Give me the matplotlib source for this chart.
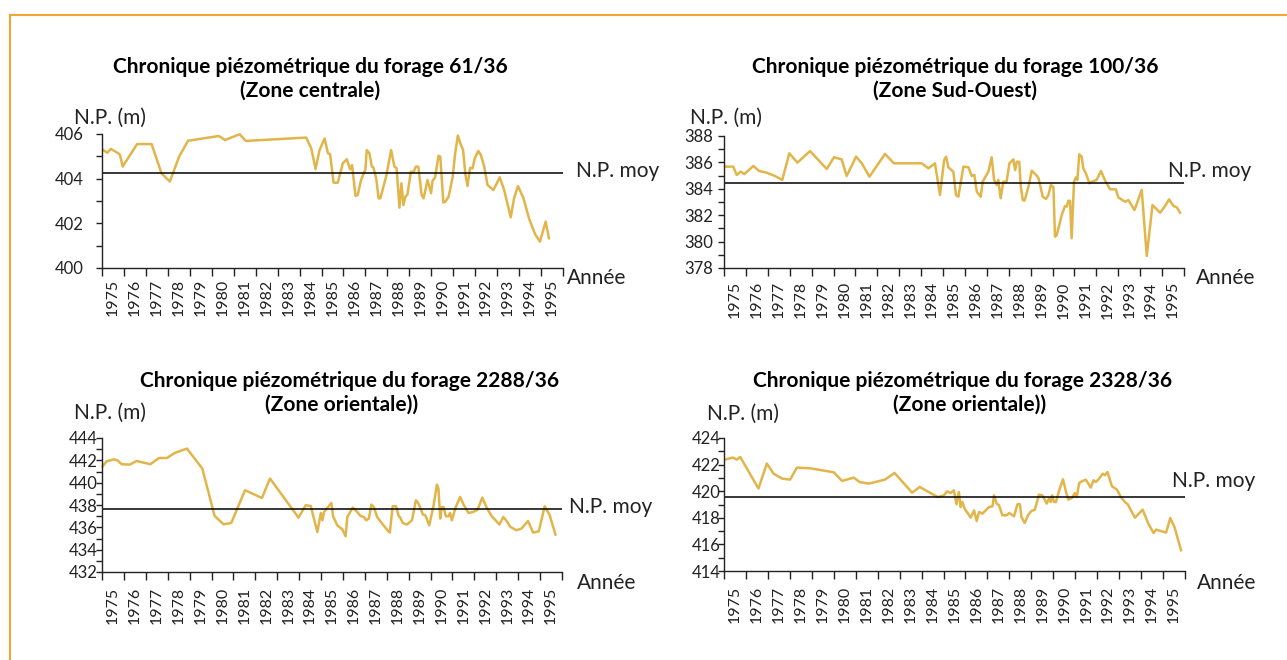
import matplotlib.pyplot as plt
from matplotlib.lines import Line2D
from matplotlib.ticker import MultipleLocator
import numpy as np

plt.rcParams['font.family'] = ['Lato', 'DejaVu Sans']

W, H = 1287, 660
JAUNE = '#E2B54A'
ORANGE = '#F0A537'

# forage 61/36 (zone centrale)
t_6136 = [1975.06, 1975.24, 1975.40, 1975.74, 1975.82, 1975.94, 1976.60, 1977.26, 1977.71, 1978.09,
          1978.51, 1978.92, 1980.33, 1980.60, 1981.27, 1981.55, 1984.30, 1984.53, 1984.73, 1984.91,
          1985.14, 1985.29, 1985.39, 1985.55, 1985.74, 1985.97, 1986.15, 1986.30, 1986.39, 1986.55,
          1986.65, 1986.80, 1987.00, 1987.06, 1987.18, 1987.29, 1987.36, 1987.49, 1987.60, 1987.68,
          1987.94, 1988.17, 1988.32, 1988.42, 1988.55, 1988.64, 1988.73, 1988.82, 1988.91, 1989.07,
          1989.20, 1989.30, 1989.41, 1989.56, 1989.65, 1989.83, 1989.99, 1990.06, 1990.17, 1990.33,
          1990.41, 1990.55, 1990.64, 1990.79, 1990.97, 1991.09, 1991.21, 1991.35, 1991.45, 1991.55,
          1991.65, 1991.77, 1991.88, 1991.98, 1992.14, 1992.26, 1992.41, 1992.56, 1992.83, 1993.12,
          1993.32, 1993.62, 1993.77, 1993.95, 1994.20, 1994.45, 1994.73, 1994.95, 1995.21, 1995.36]
np_6136 = [405.28, 405.16, 405.33, 405.14, 405.06, 404.54, 405.55, 405.55, 404.24, 403.87,
           404.98, 405.70, 405.91, 405.73, 405.99, 405.69, 405.84, 405.36, 404.43, 405.28,
           405.80, 405.14, 405.10, 403.82, 403.82, 404.69, 404.87, 404.42, 404.61, 403.23,
           403.27, 403.94, 404.42, 405.28, 405.14, 404.54, 404.51, 404.02, 403.12, 403.12,
           404.09, 405.28, 404.54, 404.47, 402.70, 403.79, 402.82, 403.20, 403.27, 404.31,
           404.31, 404.54, 404.54, 403.27, 403.12, 403.94, 403.35, 403.91, 404.05, 405.02,
           404.99, 402.93, 402.97, 403.20, 404.05, 405.14, 405.93, 405.51, 405.28, 404.21,
           403.67, 404.49, 404.46, 404.91, 405.24, 405.06, 404.54, 403.72, 403.49, 404.06,
           403.49, 402.27, 403.12, 403.67, 403.12, 402.23, 401.51, 401.18, 402.08, 401.33]

# forage 100/36 (zone sud-ouest)
t_10036 = [1975.09, 1975.42, 1975.58, 1975.76, 1975.93, 1976.34, 1976.60, 1976.95, 1977.33, 1977.66,
           1977.98, 1978.35, 1978.93, 1979.69, 1980.02, 1980.37, 1980.60, 1981.03, 1981.29, 1981.64,
           1982.35, 1982.76, 1984.03, 1984.33, 1984.63, 1984.86, 1985.05, 1985.14, 1985.24, 1985.47,
           1985.59, 1985.70, 1985.93, 1986.16, 1986.31, 1986.43, 1986.54, 1986.72, 1986.81, 1987.07,
           1987.22, 1987.33, 1987.45, 1987.52, 1987.63, 1987.75, 1987.90, 1988.03, 1988.21, 1988.29,
           1988.37, 1988.48, 1988.55, 1988.64, 1988.72, 1988.90, 1989.05, 1989.25, 1989.36, 1989.55,
           1989.70, 1989.81, 1989.92, 1990.04, 1990.11, 1990.19, 1990.42, 1990.57, 1990.65, 1990.72,
           1990.80, 1990.87, 1990.98, 1991.07, 1991.13, 1991.22, 1991.33, 1991.40, 1991.52, 1991.68,
           1991.79, 1992.01, 1992.21, 1992.40, 1992.63, 1992.89, 1993.00, 1993.31, 1993.46, 1993.74,
           1994.07, 1994.30, 1994.56, 1994.91, 1995.14, 1995.32, 1995.52, 1995.67, 1995.82]
np_10036 = [385.68, 385.68, 385.05, 385.30, 385.12, 385.73, 385.35, 385.22, 384.97, 384.67,
            386.69, 385.98, 386.86, 385.50, 386.39, 386.23, 384.97, 386.44, 385.93, 384.92,
            386.64, 385.93, 385.93, 385.55, 385.93, 383.53, 386.18, 386.43, 385.63, 385.30,
            383.53, 383.40, 385.68, 385.63, 384.97, 385.05, 383.78, 383.40, 384.54, 385.30,
            386.39, 384.67, 384.29, 384.67, 383.28, 384.54, 384.54, 385.93, 386.23, 385.42,
            386.05, 386.05, 384.16, 383.15, 383.10, 384.16, 385.37, 385.05, 384.80, 383.40,
            383.23, 383.53, 384.29, 384.11, 380.37, 380.50, 382.02, 382.70, 382.65, 383.10,
            383.08, 380.25, 384.54, 384.87, 384.67, 386.61, 386.43, 385.55, 385.17, 384.42,
            384.54, 384.67, 385.35, 384.61, 383.96, 383.96, 383.35, 383.02, 383.15, 382.39,
            383.91, 378.91, 382.77, 382.19, 382.70, 383.20, 382.70, 382.60, 382.19]

# forage 2288/36 (zone orientale)
t_228836 = [1975.03, 1975.21, 1975.55, 1975.70, 1975.90, 1976.27, 1976.58, 1977.21, 1977.60, 1977.97,
            1978.32, 1978.88, 1979.58, 1980.14, 1980.55, 1980.90, 1981.53, 1982.30, 1982.67, 1983.97,
            1984.30, 1984.53, 1984.83, 1984.99, 1985.06, 1985.14, 1985.47, 1985.55, 1985.74, 1985.97,
            1986.12, 1986.20, 1986.45, 1986.65, 1986.80, 1986.95, 1987.06, 1987.18, 1987.30, 1987.41,
            1987.56, 1987.79, 1988.06, 1988.14, 1988.27, 1988.42, 1988.55, 1988.62, 1988.73, 1988.92,
            1989.15, 1989.33, 1989.45, 1989.65, 1989.76, 1989.94, 1990.14, 1990.29, 1990.36, 1990.44,
            1990.51, 1990.59, 1990.70, 1990.82, 1990.89, 1990.97, 1991.15, 1991.35, 1991.50, 1991.73,
            1991.95, 1992.15, 1992.36, 1992.56, 1992.79, 1992.94, 1993.14, 1993.32, 1993.47, 1993.65,
            1993.92, 1994.15, 1994.45, 1994.68, 1994.94, 1995.21, 1995.44, 1995.70]
np_228836 = [441.47, 441.91, 442.09, 442.00, 441.65, 441.62, 441.94, 441.65, 442.21, 442.21,
             442.66, 443.05, 441.26, 437.02, 436.27, 436.39, 439.32, 438.63, 440.37, 436.87,
             437.98, 437.91, 435.58, 437.29, 436.63, 437.38, 438.18, 436.99, 436.18, 435.83,
             435.20, 436.93, 437.77, 437.38, 437.02, 436.93, 436.63, 436.78, 438.04, 437.82,
             436.93, 436.33, 435.67, 435.53, 437.89, 437.89, 436.99, 436.87, 436.39, 436.25,
             436.63, 438.42, 438.13, 437.14, 437.08, 436.18, 437.98, 439.83, 439.47, 436.78,
             437.82, 437.82, 436.99, 436.99, 437.29, 436.63, 437.82, 438.72, 438.06, 437.29,
             437.38, 437.59, 438.66, 437.77, 436.99, 436.69, 436.25, 436.93, 436.57, 436.03,
             435.74, 435.89, 436.57, 435.53, 435.65, 437.89, 437.08, 435.35]

# forage 2328/36 (zone orientale)
t_232836 = [1975.09, 1975.40, 1975.58, 1975.74, 1976.57, 1976.95, 1977.26, 1977.64, 1978.01, 1978.32,
            1978.93, 1980.00, 1980.38, 1980.91, 1981.18, 1981.60, 1982.33, 1982.77, 1983.57, 1983.92,
            1984.18, 1984.74, 1985.02, 1985.17, 1985.32, 1985.47, 1985.59, 1985.70, 1985.78, 1985.86,
            1985.96, 1986.24, 1986.39, 1986.51, 1986.62, 1986.77, 1987.07, 1987.23, 1987.30, 1987.42,
            1987.53, 1987.68, 1987.88, 1987.99, 1988.21, 1988.37, 1988.48, 1988.55, 1988.70, 1988.85,
            1989.00, 1989.16, 1989.35, 1989.50, 1989.70, 1989.80, 1989.88, 1989.95, 1990.03, 1990.12,
            1990.26, 1990.44, 1990.60, 1990.69, 1990.87, 1990.98, 1991.07, 1991.18, 1991.30, 1991.48,
            1991.71, 1991.83, 1991.94, 1992.09, 1992.25, 1992.35, 1992.47, 1992.67, 1992.90, 1993.08,
            1993.26, 1993.39, 1993.72, 1994.07, 1994.33, 1994.57, 1994.68, 1995.14, 1995.33, 1995.52,
            1995.82]
np_232836 = [422.40, 422.53, 422.38, 422.57, 420.20, 422.08, 421.32, 420.95, 420.87, 421.77,
             421.72, 421.42, 420.77, 421.02, 420.69, 420.57, 420.87, 421.37, 419.89, 420.32,
             420.07, 419.56, 419.69, 419.99, 419.86, 420.07, 419.02, 419.94, 418.81, 419.19,
             418.69, 418.01, 418.56, 417.76, 418.44, 418.31, 418.81, 418.86, 419.69, 419.07,
             418.94, 418.19, 418.19, 418.36, 418.11, 419.02, 419.02, 418.06, 417.61, 418.20,
             418.51, 418.61, 419.74, 419.69, 419.07, 419.44, 419.19, 419.69, 419.19, 419.19,
             420.02, 420.90, 419.82, 419.37, 419.52, 419.86, 419.56, 420.62, 420.74, 420.87,
             420.27, 420.82, 420.69, 420.95, 421.32, 421.20, 421.44, 420.37, 420.12, 419.56,
             419.19, 419.02, 418.01, 418.61, 417.56, 416.86, 417.11, 416.89, 417.98, 417.31,
             415.56]

moyennes = [404.27, 384.46, 437.68, 419.54]
limites_y = [(400, 406), (378, 388), (432, 444), (414, 424)]
titres = ["Chronique piézométrique du forage 61/36", "Chronique piézométrique du forage 100/36",
          "Chronique piézométrique du forage 2288/36", "Chronique piézométrique du forage 2328/36"]
zones = ["(Zone centrale)", "(Zone Sud-Ouest)", "(Zone orientale))", "(Zone orientale))"]
annees = np.arange(1975, 1996)


def px(x, y):
    return x / W, 1 - y / H


fig = plt.figure(figsize=(W / 100, H / 100), dpi=100)

# cadre orange
fig.add_artist(Line2D([10 / W, 1], [1 - 15 / H, 1 - 15 / H], color=ORANGE, lw=1.5,
                      transform=fig.transFigure))
fig.add_artist(Line2D([10 / W, 10 / W], [0, 1 - 15 / H], color=ORANGE, lw=1.5,
                      transform=fig.transFigure))

# boites des axes en pixels: gauche, haut, droite, bas
boites = [(102, 134, 563, 268), (724, 136, 1184, 268),
          (102, 438, 562, 572), (724, 438, 1185, 571)]
pads_y = [9.4, 3.6, -0.7, -1.4]
pads_x = [8, 9.5, 10.5, 10.5]
series = [(t_6136, np_6136), (t_10036, np_10036), (t_228836, np_228836), (t_232836, np_232836)]

# textes: (x N.P.(m), y N.P.(m)), centre titre, y titre, N.P. moy, Année
pos_np = [(74, 118), (690, 118), (74, 413), (707, 414)]
pos_titre = [(310, 67, 310, 91), (955, 67, 955, 91), (350, 381, 342, 405), (963, 381, 970, 405)]
pos_moy = [(576, 171), (1168, 171), (569, 507), (1172, 481)]
pos_annee = [(567, 278), (1196, 278), (577, 583), (1197, 583)]

for i in range(4):
    x0, y0, x1, y1 = boites[i]
    ax = fig.add_axes([x0 / W, 1 - y1 / H, (x1 - x0) / W, (y1 - y0) / H])
    t, v = series[i]
    ax.plot(t, v, color=JAUNE, lw=1.8, clip_on=False)
    ax.axhline(moyennes[i], color='black', lw=1.1)
    ax.set_xlim(1975, 1996)
    ax.set_ylim(*limites_y[i])

    for spine in ["right", "top"]:
        ax.spines[spine].set_color("none")
    for spine in ["left", "bottom"]:
        ax.spines[spine].set_color("#222222")
        ax.spines[spine].set_linewidth(1)

    ax.set_xticks(np.arange(1975, 1997))
    ax.set_xticklabels([])
    ax.set_xticks(annees + 0.5, minor=True)
    ax.set_xticklabels([str(a) for a in annees], minor=True)
    ax.tick_params(axis='x', which='major', length=6, width=1, color='#222222')
    ax.tick_params(axis='x', which='minor', length=0, pad=pads_x[i], labelsize=11.5,
                   labelrotation=90, labelcolor='#222222')

    ax.yaxis.set_major_locator(MultipleLocator(2))
    ax.yaxis.set_minor_locator(MultipleLocator(1))
    ax.tick_params(axis='y', which='both', length=4, width=1, color='#222222',
                   pad=pads_y[i], labelsize=12, labelcolor='#222222')

    tx, ty, zx, zy = pos_titre[i]
    fig.text(*px(tx, ty), titres[i], ha='center', va='center', fontsize=15, fontweight='bold')
    fig.text(*px(zx, zy), zones[i], ha='center', va='center', fontsize=15, fontweight='bold')
    fig.text(*px(*pos_np[i]), "N.P. (m)", ha='left', va='center', fontsize=15, color='#222222')
    fig.text(*px(*pos_moy[i]), "N.P. moy", ha='left', va='center', fontsize=15, color='#222222')
    fig.text(*px(*pos_annee[i]), "Année", ha='left', va='center', fontsize=15, color='#222222')

fig.savefig("out.png", dpi=100)
